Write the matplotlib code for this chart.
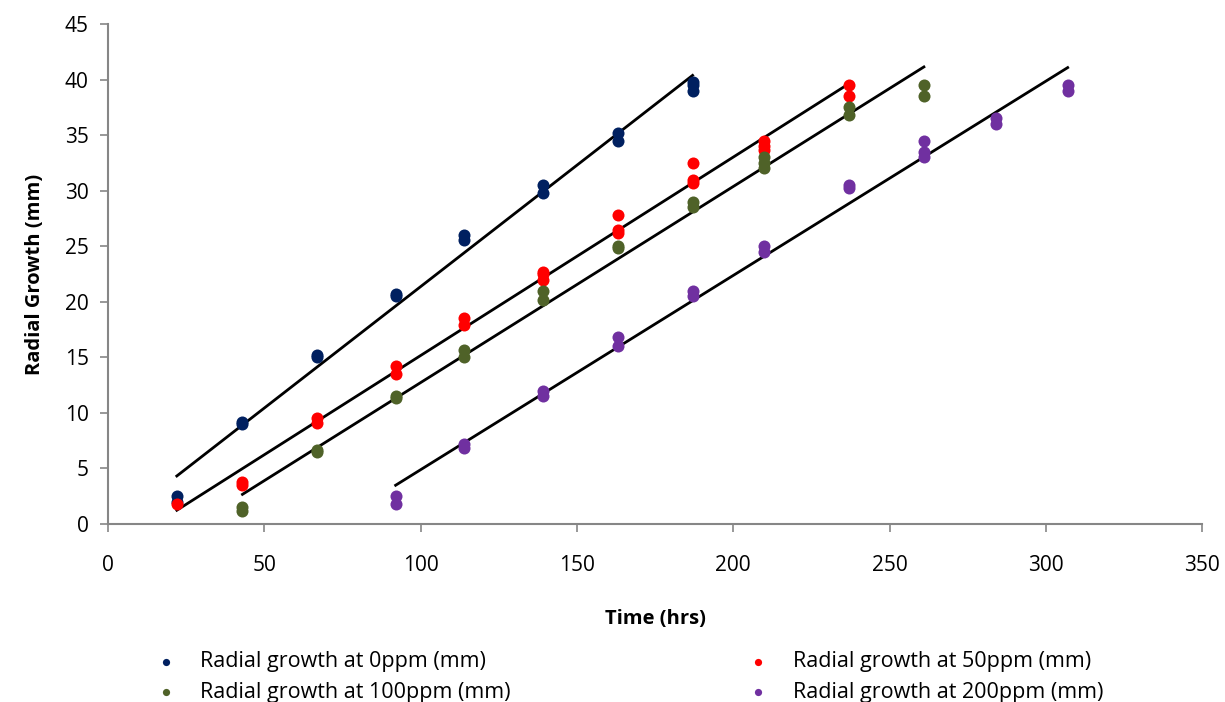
import matplotlib.pyplot as plt
import numpy as np

plt.rcParams['font.family'] = ['Open Sans', 'DejaVu Sans']

# time points (hrs) and radial growth readings (mm) per concentration
t_0 = [22, 22, 43, 43, 67, 67, 92, 92, 114, 114, 139, 139, 163, 163, 187, 187, 187]
g_0 = [2.5, 2.0, 9.2, 9.0, 15.2, 15.0, 20.7, 20.5, 26.0, 25.6, 30.5, 29.8, 35.2, 34.5, 39.8, 39.5, 39.0]

t_50 = [22, 43, 43, 67, 67, 92, 92, 114, 114, 139, 139, 139, 163, 163, 163, 187, 187, 187, 210, 210, 210, 237, 237]
g_50 = [1.8, 3.8, 3.5, 9.5, 9.1, 14.2, 13.5, 18.5, 17.9, 22.7, 22.0, 22.5, 27.8, 26.5, 26.2, 32.5, 31.0, 30.7, 34.5, 34.0, 33.7, 39.5, 38.5]

t_100 = [43, 43, 67, 67, 92, 92, 114, 114, 139, 139, 163, 163, 187, 187, 210, 210, 210, 237, 237, 261, 261]
g_100 = [1.5, 1.2, 6.7, 6.5, 11.5, 11.3, 15.7, 15.0, 21.0, 20.2, 25.0, 24.8, 29.0, 28.5, 33.0, 32.5, 32.0, 37.5, 36.8, 39.5, 38.5]

t_200 = [92, 92, 114, 114, 139, 139, 163, 163, 187, 187, 210, 210, 237, 237, 261, 261, 261, 284, 284, 307, 307]
g_200 = [2.5, 1.8, 7.2, 6.8, 12.0, 11.5, 16.8, 16.0, 21.0, 20.5, 25.0, 24.5, 30.5, 30.2, 34.5, 33.5, 33.0, 36.5, 36.0, 39.5, 39.0]

labels = ['Radial growth at 0ppm (mm)', 'Radial growth at 50ppm (mm)',
          'Radial growth at 100ppm (mm)', 'Radial growth at 200ppm (mm)']
colors = ['#002060', '#FF0000', '#4F6228', '#7030A0']

fig = plt.figure(figsize=(12.25, 7.02), dpi=100)
ax = fig.add_axes([0.0882, 0.2536, 0.8931, 0.7122])

series = [(t_0, g_0), (t_50, g_50), (t_100, g_100), (t_200, g_200)]
handles = []
for (t, g), c, lab in zip(series, colors, labels):
    h = ax.scatter(t, g, s=75, color=c, label=lab, zorder=3, linewidths=0)
    handles.append(h)
    # linear trendline across the measured range
    k, b = np.polyfit(t, g, 1)
    xs = np.array([min(t), max(t)])
    ax.plot(xs, k * xs + b, color='black', lw=2, zorder=2)

ax.set_xlim(0, 350)
ax.set_ylim(0, 45)
ax.set_xticks(np.arange(0, 351, 50))
ax.set_yticks(np.arange(0, 46, 5))
for s in ['top', 'right']:
    ax.spines[s].set_visible(False)
for s in ['left', 'bottom']:
    ax.spines[s].set_color('#868686')
    ax.spines[s].set_linewidth(1.5)
ax.tick_params(colors='#868686', labelcolor='black', labelsize=15, length=6, width=1.2)
ax.tick_params(axis='x', pad=16)
ax.tick_params(axis='y', pad=8)
ax.set_xlabel('Time (hrs)', fontsize=14.5, fontweight='bold', labelpad=24)
ax.set_ylabel('Radial Growth (mm)', fontsize=14.5, fontweight='bold', labelpad=14)

# row-wise order like the original: 0 / 50 on the first row, 100 / 200 on the second
order = [0, 2, 1, 3]
fig.legend(handles=[handles[i] for i in order],
           labels=[labels[i] for i in order],
           loc='upper left', bbox_to_anchor=(0.102, 0.1),
           ncol=2, frameon=False, fontsize=15.5, columnspacing=10.5,
           handletextpad=0.6, labelspacing=0.45, markerscale=0.6)

fig.savefig('out.png', dpi=100)
